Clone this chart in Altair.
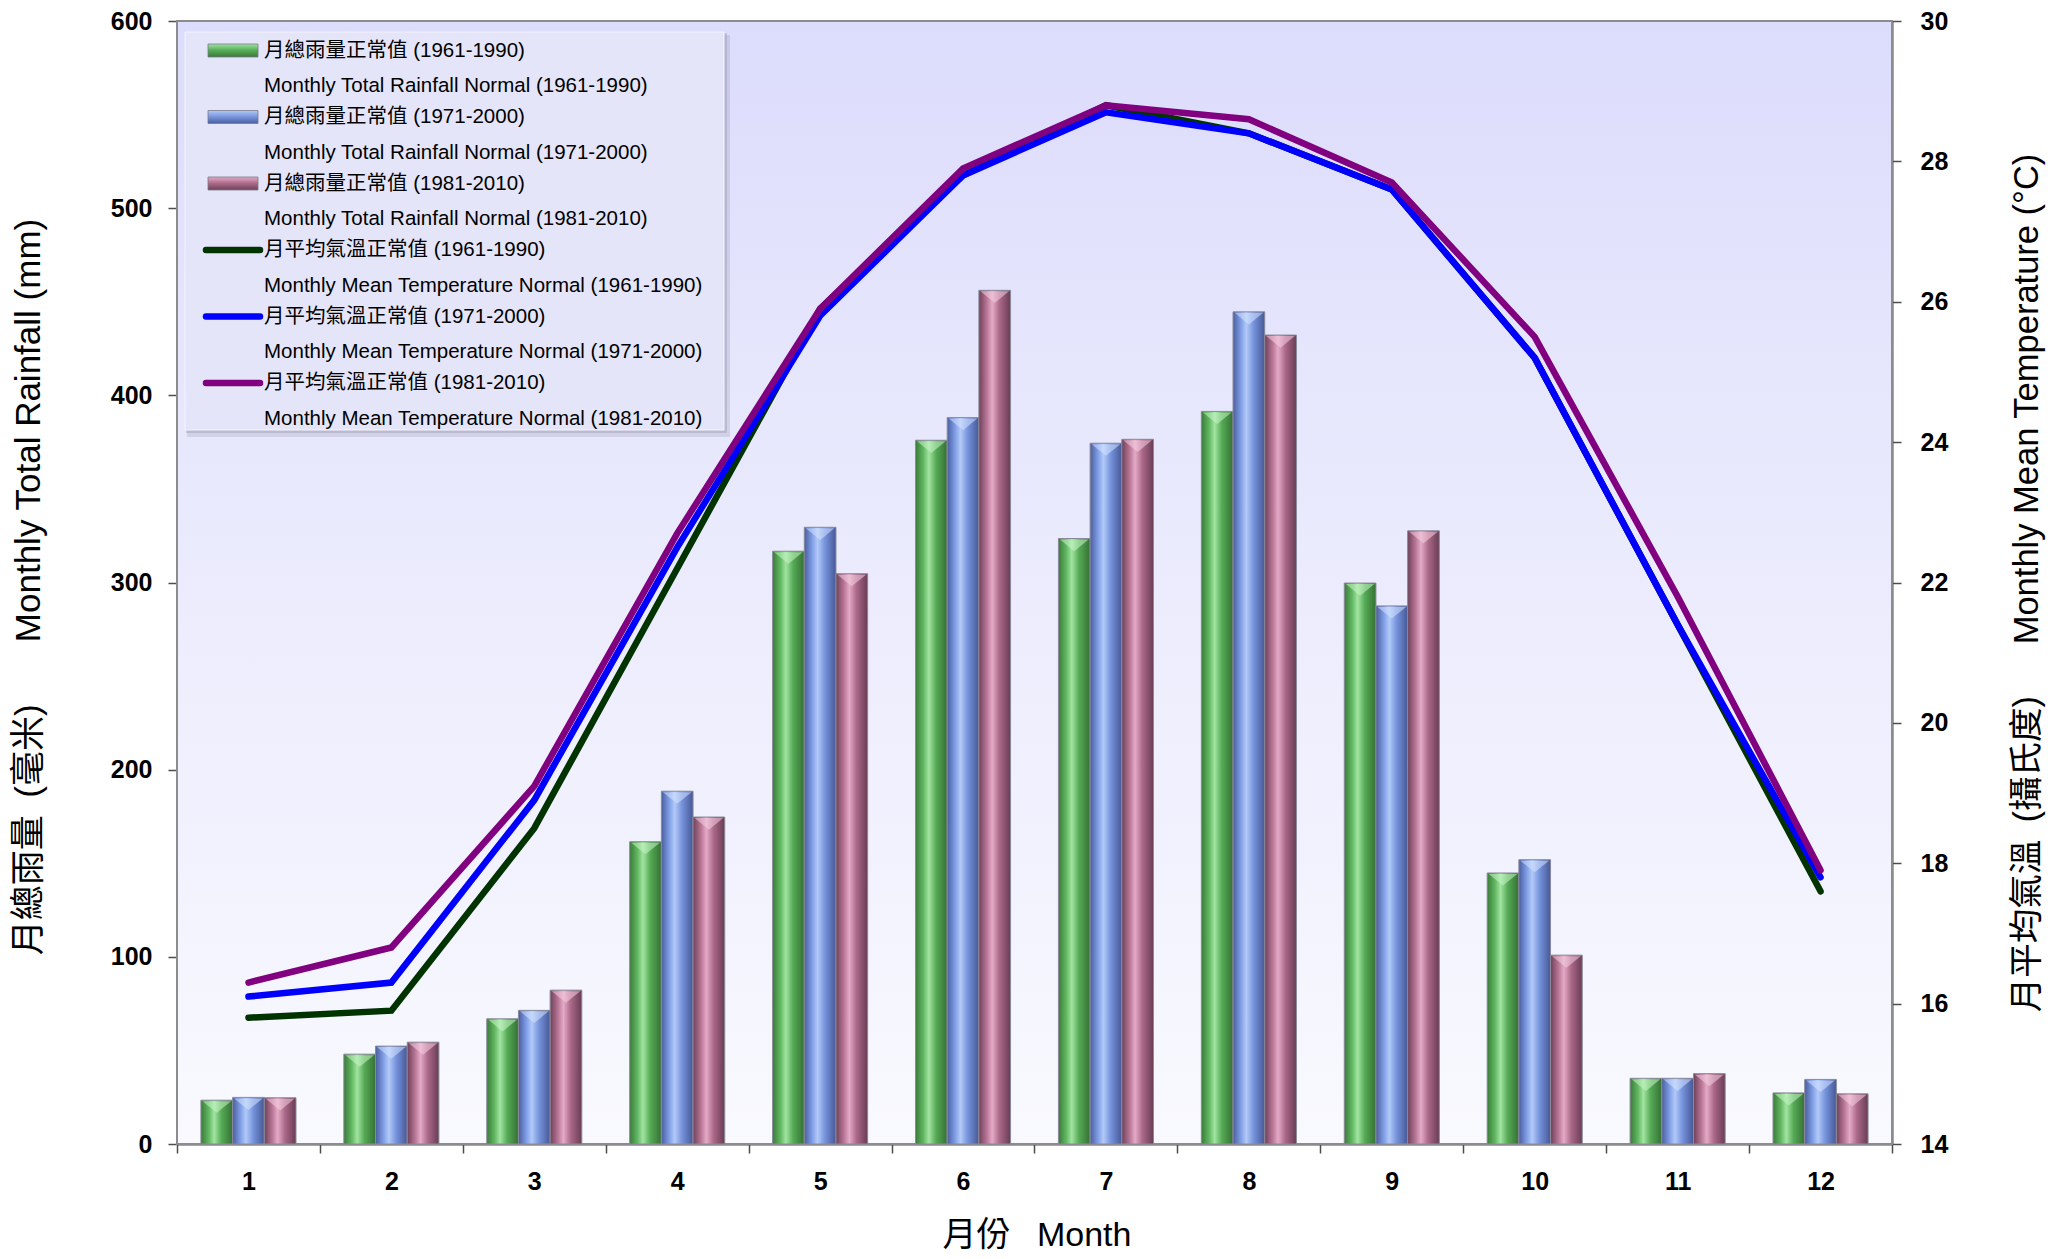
import altair as alt
import pandas as pd

# ---------------- data ----------------
MONTHS = list(range(1, 13))
PERIODS = ["1961-1990", "1971-2000", "1981-2010"]

RAIN_6190 = [23.4, 48.0, 66.9, 161.5, 316.7, 376.0, 323.5, 391.4, 299.7, 144.8, 35.1, 27.3]
RAIN_7100 = [24.9, 52.3, 71.4, 188.5, 329.5, 388.1, 374.4, 444.6, 287.5, 151.9, 35.1, 34.5]
RAIN_8110 = [24.7, 54.4, 82.2, 174.7, 304.7, 456.1, 376.5, 432.2, 327.6, 100.9, 37.6, 26.8]

TEMP_6190 = [15.8, 15.9, 18.5, 22.2, 25.9, 27.8, 28.8, 28.4, 27.6, 25.2, 21.4, 17.6]
TEMP_7100 = [16.1, 16.3, 18.9, 22.5, 25.8, 27.8, 28.7, 28.4, 27.6, 25.2, 21.4, 17.8]
TEMP_8110 = [16.3, 16.8, 19.1, 22.7, 25.9, 27.9, 28.8, 28.6, 27.7, 25.5, 21.8, 17.9]

RAIN_TICKS = [0, 100, 200, 300, 400, 500, 600]
TEMP_TICKS = [14, 16, 18, 20, 22, 24, 26, 28, 30]

LEGEND_CN = [
    "月總雨量正常值 (1961-1990)",
    "月總雨量正常值 (1971-2000)",
    "月總雨量正常值 (1981-2010)",
    "月平均氣溫正常值 (1961-1990)",
    "月平均氣溫正常值 (1971-2000)",
    "月平均氣溫正常值 (1981-2010)",
]
LEGEND_EN = [
    "Monthly Total Rainfall Normal (1961-1990)",
    "Monthly Total Rainfall Normal (1971-2000)",
    "Monthly Total Rainfall Normal (1981-2010)",
    "Monthly Mean Temperature Normal (1961-1990)",
    "Monthly Mean Temperature Normal (1971-2000)",
    "Monthly Mean Temperature Normal (1981-2010)",
]

X_TITLE = "月份\u2002\u00a0Month"
Y_LEFT_TITLE = "月總雨量\u2002(毫米)\u2003\u2002\u00a0Monthly Total Rainfall (mm)"
Y_RIGHT_TITLE = "月平均氣溫\u2002(攝氏度)\u2003\u2002Monthly Mean Temperature (°C)"

# ---------------- tables ----------------
rain_df = pd.DataFrame({
    "month": MONTHS * 3,
    "period": sum([[p] * 12 for p in PERIODS], []),
    "rain": RAIN_6190 + RAIN_7100 + RAIN_8110,
})
temp_df = pd.DataFrame({
    "month": MONTHS * 3,
    "period": sum([[p] * 12 for p in PERIODS], []),
    "temp": TEMP_6190 + TEMP_7100 + TEMP_8110,
})
leg_df = pd.DataFrame({
    "idx": list(range(6)),
    "period": PERIODS + PERIODS,
    "cn": LEGEND_CN,
    "en": LEGEND_EN,
})
box_df = pd.DataFrame({"box": [0]})

# ---------------- styles ----------------
W, H = 1715, 1123
FONT = "Liberation Sans, Noto Sans CJK TC, sans-serif"
LINE_COLORS = ["#003300", "#0000ff", "#800080"]

BAR_STOPS = [
    ["#3a7a3a", "#62b862", "#a2e4a2", "#55aa55", "#357035"],
    ["#4a5e9e", "#809ee6", "#b2caf8", "#7693dc", "#465896"],
    ["#6e4058", "#b87696", "#e4aac6", "#ab6888", "#683c54"],
]
BEVEL_COLORS = ["#c8f5c8", "#d6e4ff", "#f6cfe2"]


def hgrad(stops):
    offs = [0.0, 0.25, 0.42, 0.65, 1.0]
    return alt.LinearGradient(
        gradient="linear", x1=0, y1=0, x2=1, y2=0,
        stops=[alt.GradientStop(color=c, offset=o) for c, o in zip(stops, offs)],
    )


def vgrad(stops):
    return alt.LinearGradient(
        gradient="linear", x1=0, y1=0, x2=0, y2=1,
        stops=[alt.GradientStop(color=stops[2], offset=0),
               alt.GradientStop(color=stops[3], offset=0.5),
               alt.GradientStop(color=stops[0], offset=1)],
    )


x_scale = alt.Scale(paddingInner=0, paddingOuter=0)
xoff_scale = alt.Scale(domain=PERIODS, paddingInner=0, paddingOuter=0.755)
rain_scale = alt.Scale(domain=[0, 600], nice=False)
x_axis = alt.Axis(
    title=X_TITLE, labelAngle=0, tickBand="extent", tickSize=9,
    labelFont=FONT, labelFontSize=25, labelFontWeight="bold", labelPadding=16,
    labelColor="black", titleFont=FONT, titleFontSize=34, titleFontWeight="normal",
    titleColor="black", titleX=W / 2 + 2, titleY=91, titleBaseline="middle",
    domainColor="#4d4d4d", domainWidth=2, tickColor="#4d4d4d", tickWidth=1.5,
)
y_left_axis = alt.Axis(
    title=Y_LEFT_TITLE, orient="left", values=RAIN_TICKS, tickSize=9, grid=False,
    labelFont=FONT, labelFontSize=25, labelFontWeight="bold", labelPadding=16,
    labelColor="black", titleFont=FONT, titleFontSize=35, titleFontWeight="normal",
    titleColor="black", titleAngle=270, titleX=-149, titleY=H / 2 + 4,
    titleBaseline="middle", titleAlign="center",
    domainColor="#4d4d4d", domainWidth=2, tickColor="#4d4d4d", tickWidth=1.5,
)
y_right_axis = alt.Axis(
    title=Y_RIGHT_TITLE, orient="right", values=TEMP_TICKS, tickSize=9, grid=False,
    labelFont=FONT, labelFontSize=25, labelFontWeight="bold", labelPadding=19,
    labelColor="black", titleFont=FONT, titleFontSize=34.5, titleFontWeight="normal",
    titleColor="black", titleAngle=270, titleX=135, titleY=H / 2,
    titleBaseline="middle", titleAlign="center",
    domainColor="#4d4d4d", domainWidth=2, tickColor="#4d4d4d", tickWidth=1.5,
)

# ---------------- plot background ----------------
bg = alt.LinearGradient(
    gradient="linear", x1=0, y1=0, x2=0, y2=1,
    stops=[alt.GradientStop(color="#dcdcfc", offset=0),
           alt.GradientStop(color="#eaeafd", offset=0.45),
           alt.GradientStop(color="#f9f9ff", offset=1)],
)
bg_rect = alt.Chart(box_df).mark_rect(fill=bg, stroke="#8c8c8c", strokeWidth=2).encode(
    x=alt.value(0), x2=alt.value(W), y=alt.value(0), y2=alt.value(H))

# ---------------- bars ----------------
bar_layers = []
for i, p in enumerate(PERIODS):
    base = alt.Chart(rain_df).transform_filter(alt.datum.period == p)
    enc = dict(
        x=alt.X("month:O", scale=x_scale, axis=x_axis),
        xOffset=alt.XOffset("period:N", scale=xoff_scale),
        y=alt.Y("rain:Q", scale=rain_scale, axis=y_left_axis),
    )
    bar_layers.append(
        base.mark_bar(fill=hgrad(BAR_STOPS[i]), stroke="#8a8a9a", strokeWidth=1).encode(**enc)
    )
    # light bevel triangle at the top of every bar
    bar_layers.append(
        base.mark_point(
            shape="M-0.92,0 L0.92,0 L0,0.75 Z", size=961, filled=True,
            fill=BEVEL_COLORS[i], opacity=0.55, strokeWidth=0, yOffset=1,
        ).encode(**enc)
    )
bars = alt.layer(*bar_layers)

# ---------------- lines ----------------
lines = (
    alt.Chart(temp_df)
    .mark_line(strokeWidth=6.5, strokeCap="round", strokeJoin="miter")
    .encode(
        x=alt.X("month:O", scale=x_scale, axis=x_axis),
        y=alt.Y("temp:Q", scale=alt.Scale(domain=[14, 30], nice=False, zero=False), axis=y_right_axis),
        color=alt.Color("period:N", scale=alt.Scale(domain=PERIODS, range=LINE_COLORS), legend=None),
        order=alt.Order("month:Q"),
    )
)

# ---------------- legend ----------------
leg_y = alt.Y("idx:Q", scale=alt.Scale(domain=[0, 5], range=[29.5, 362], nice=False, zero=False), axis=None)

shadow1 = alt.Chart(box_df).mark_rect(fill="#8e8ea8", opacity=0.25).encode(
    x=alt.value(10), x2=alt.value(553), y=alt.value(14), y2=alt.value(416))
shadow2 = alt.Chart(box_df).mark_rect(fill="#8e8ea8", opacity=0.35).encode(
    x=alt.value(9), x2=alt.value(550), y=alt.value(12), y2=alt.value(412))
box = alt.Chart(box_df).mark_rect(fill="#e5e5f9", stroke="#f4f4ff", strokeWidth=1).encode(
    x=alt.value(8), x2=alt.value(547), y=alt.value(11), y2=alt.value(409))

sym_layers = []
for i, p in enumerate(PERIODS):
    sym_layers.append(
        alt.Chart(leg_df)
        .transform_filter(alt.datum.idx == i)
        .mark_rect(fill=vgrad(BAR_STOPS[i]), stroke="#7a7a8a", strokeWidth=0.8,
                   x=31, x2=81, yOffset=-6.5, y2Offset=6.5)
        .encode(y=leg_y, y2=alt.Y2("idx:Q"))
    )

line_syms = (
    alt.Chart(leg_df)
    .transform_filter(alt.datum.idx >= 3)
    .mark_rule(strokeWidth=6.5, strokeCap="round", x=29, x2=83)
    .encode(y=leg_y, color=alt.Color("period:N", scale=alt.Scale(domain=PERIODS, range=LINE_COLORS), legend=None))
)

cn_text = alt.Chart(leg_df).mark_text(
    align="left", baseline="middle", x=87, font=FONT, fontSize=20.5, color="black"
).encode(y=leg_y, text="cn:N")
en_text = alt.Chart(leg_df).mark_text(
    align="left", baseline="middle", x=87, dy=35.5, font=FONT, fontSize=20.5, color="black"
).encode(y=leg_y, text="en:N")

legend = alt.layer(shadow1, shadow2, box, *sym_layers, line_syms, cn_text, en_text)

# ---------------- compose ----------------
chart = (
    alt.layer(bg_rect, bars, lines, legend)
    .resolve_scale(y="independent")
    .properties(
        width=W, height=H,
        autosize=alt.AutoSizeParams(type="none"),
        padding={"left": 169, "top": 13, "right": 164, "bottom": 107},
        background="white",
    )
    .configure_view(stroke=None)
)

chart.save("out.html", embed_options={"renderer": "svg", "actions": False})
